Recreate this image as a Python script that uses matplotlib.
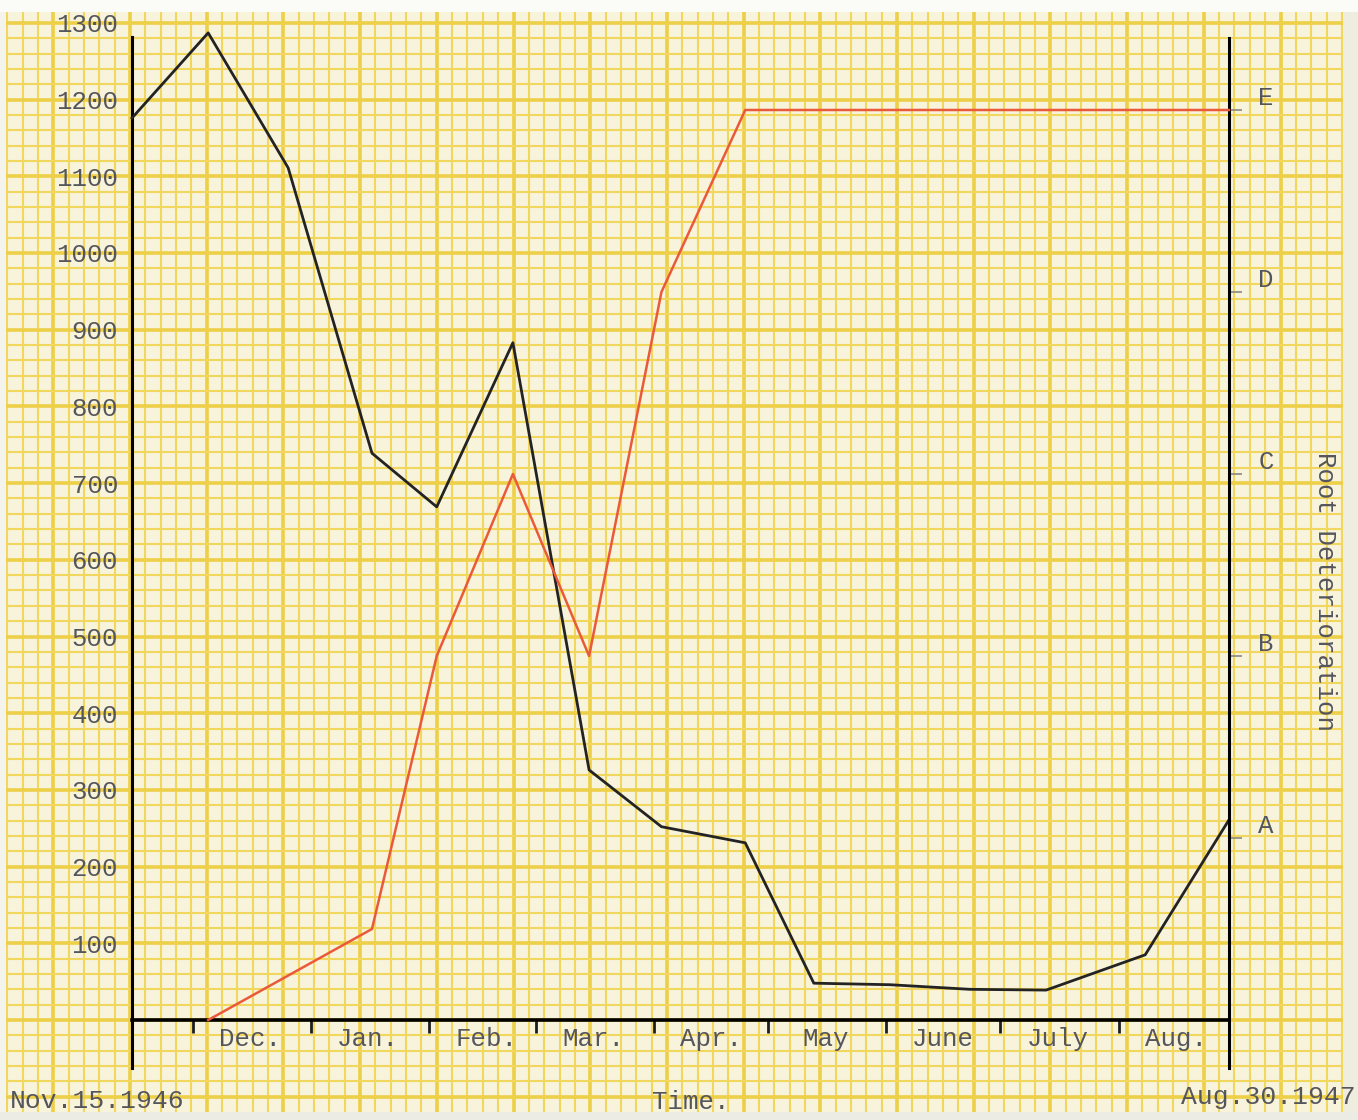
import numpy as np
import pandas as pd
import matplotlib
matplotlib.use('Agg')
import matplotlib.pyplot as plt
import matplotlib.dates as mdates
from matplotlib.patches import Rectangle

plt.rcParams['font.family'] = ['Liberation Mono', 'DejaVu Sans Mono', 'DejaVu Sans']

# sampling dates
sample_dates = ['1946-11-15', '1946-12-05', '1946-12-26', '1947-01-17', '1947-02-03',
                '1947-02-23', '1947-03-15', '1947-04-03', '1947-04-25', '1947-05-13',
                '1947-06-02', '1947-06-23', '1947-07-13', '1947-08-08', '1947-08-30']
# black line, left scale
counts = [1176, 1287, 1111, 739, 669, 883, 326, 252, 231, 48, 46, 40, 39, 85, 261]
# red line, right scale (A..E)
red_dates = ['1946-12-05', '1947-01-17', '1947-02-03', '1947-02-23', '1947-03-15',
             '1947-04-03', '1947-04-25', '1947-05-13', '1947-06-02', '1947-06-23',
             '1947-07-13', '1947-08-08', '1947-08-30']
deterioration = [0, 0.5, 2, 3, 2, 4, 5, 5, 5, 5, 5, 5, 5]

left_ticks = [100, 200, 300, 400, 500, 600, 700, 800, 900, 1000, 1100, 1200, 1300]
right_ticks = [1, 2, 3, 4, 5]
right_labels = ['A', 'B', 'C', 'D', 'E']
month_labels = ['Dec.', 'Jan.', 'Feb.', 'Mar.', 'Apr.', 'May', 'June', 'July', 'Aug.']
start_label = 'Nov.15.1946'
end_label = 'Aug.30.1947'

W, H = 1358, 1120
txt = '#55555c'
paper = '#f8f3db'
grid_minor = '#f1d75e'
grid_major = '#edcf48'

fig = plt.figure(figsize=(W / 100, H / 100), dpi=100, facecolor='#f4f3ec')

def fx(px):
    return px / W

def fy(py):
    return 1 - py / H

# ---- graph paper background ----
px0, px1, py0, py1 = 6, 1343, 12, 1112
bg = fig.add_axes([fx(px0), fy(py1), fx(px1 - px0), (py1 - py0) / H], zorder=0)
bg.set_xlim(px0, px1)
bg.set_ylim(py1, py0)
bg.set_facecolor(paper)
step = 76.7
sub = step / 5
for i, x in enumerate(np.arange(130 - 10 * sub, px1, sub)):
    major = i % 5 == 0
    bg.axvline(x, color=grid_major if major else grid_minor, lw=2.6 if major else 1.5, zorder=1)
for i, y in enumerate(np.arange(1020 + 5 * sub, py0, -sub)):
    major = i % 5 == 0
    bg.axhline(y, color=grid_major if major else grid_minor, lw=2.6 if major else 1.5, zorder=1)
bg.axis('off')
bg.add_patch(Rectangle((px0, py0), px1 - px0, py1 - py0, facecolor=paper, edgecolor='none', zorder=0))

# ---- main chart ----
x_left, x_right = 132, 1229
y_top, y_bot, y_zero = 14, 1068, 1020
ppu = 0.767     # px per count unit
ppr = 182.0     # px per deterioration grade

ax = fig.add_axes([fx(x_left), fy(y_bot), fx(x_right - x_left), (y_bot - y_top) / H], zorder=2)
ax.patch.set_alpha(0)
dates = pd.to_datetime(sample_dates)
ax.set_xlim(mdates.date2num(dates[0]), mdates.date2num(dates[-1]))
ax.set_ylim(-(y_bot - y_zero) / ppu, (y_zero - y_top) / ppu)

ax.plot(dates, counts, color='#232323', lw=2.0, clip_on=False, zorder=4)

for s in ['top', 'right']:
    ax.spines[s].set_visible(False)
ax.spines['left'].set_linewidth(2.2)
ax.spines['left'].set_bounds(-(y_bot - y_zero) / ppu, (y_zero - 37) / ppu)
ax.spines['bottom'].set_position(('data', 0))
ax.spines['bottom'].set_linewidth(2.6)

ax.set_yticks(left_ticks)
ax.set_yticklabels([str(v) for v in left_ticks])
ax.tick_params(axis='y', length=0, pad=10, labelsize=18.5, labelcolor=txt)

month_starts = pd.date_range('1946-12-01', '1947-08-01', freq='MS')
mids = month_starts + pd.Timedelta(days=15)
ax.set_xticks(month_starts)
ax.set_xticklabels([])
ax.set_xticks(mids, minor=True)
ax.set_xticklabels(month_labels, minor=True)
ax.tick_params(axis='x', which='major', direction='out', length=9.5, width=2, color='#1e1e1e')
ax.tick_params(axis='x', which='minor', length=0, pad=5, labelsize=18.5, labelcolor=txt)

ax2 = ax.twinx()
ax2.set_ylim(-(y_bot - y_zero) / ppr, (y_zero - y_top) / ppr)
ax2.plot(pd.to_datetime(red_dates), deterioration, color='#ea5a3a', lw=1.8, clip_on=False, zorder=3)
for s in ['top', 'left', 'bottom']:
    ax2.spines[s].set_visible(False)
ax2.spines['right'].set_linewidth(2.2)
ax2.spines['right'].set_bounds(-(y_bot - y_zero) / ppr, (y_zero - 38) / ppr)
ax2.set_yticks(right_ticks)
ax2.set_yticklabels(right_labels, va='bottom')
ax2.tick_params(axis='y', direction='out', length=9, width=1.2, color='#8a8a80',
                pad=12, labelsize=18.5, labelcolor=txt)

fig.text(fx(1325), fy(592), 'Root Deterioration', rotation=270, ha='center', va='center',
         fontsize=18.5, color=txt)
fig.text(fx(10), fy(1101), start_label, ha='left', va='center', fontsize=19, color=txt)
fig.text(fx(652), fy(1102), 'Time.', ha='left', va='center', fontsize=18.5, color=txt)
fig.text(fx(1356), fy(1097), end_label, ha='right', va='center', fontsize=19, color=txt)

# scan edges
fig.add_artist(Rectangle((0, 0), 1, fy(1112), transform=fig.transFigure,
                         facecolor='#ecebe4', edgecolor='none', zorder=5))
fig.add_artist(Rectangle((0, fy(12)), 1, 12 / H, transform=fig.transFigure,
                         facecolor='#fbfbf8', edgecolor='none', zorder=5))
fig.add_artist(Rectangle((fx(1343), fy(1112)), fx(15), 1100 / H, transform=fig.transFigure,
                         facecolor='#eeeddf', edgecolor='none', zorder=1))

fig.savefig('out.png', dpi=100, facecolor=fig.get_facecolor())
